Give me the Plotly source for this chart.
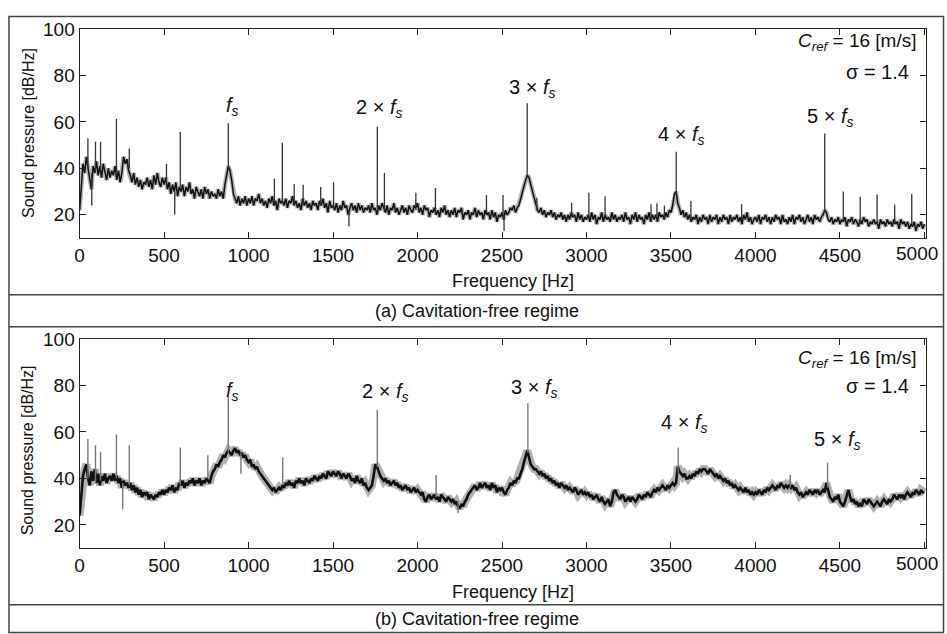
import plotly.graph_objects as go

# ---------------- data ----------------
freq_hz = list(range(0, 5001, 10))

top_db = [
    22, 34, 42, 38, 45, 40, 36, 31, 41, 38,
    43, 37, 41, 36, 42, 38, 35, 40, 36, 39,
    37, 41, 35, 39, 34, 38, 45, 42, 44, 39,
    37, 34, 38, 33, 36, 32, 35, 31, 34, 33,
    36, 32, 35, 31, 37, 33, 38, 34, 32, 36,
    33, 36, 31, 34, 29, 33, 30, 34, 28, 32,
    30, 33, 28, 32, 30, 34, 29, 31, 27, 32,
    30, 28, 31, 27, 32, 29, 31, 27, 30, 28,
    29, 27, 31, 28, 30, 27, 33, 38, 41, 39,
    35, 29, 27, 25, 28, 24, 27, 25, 28, 24,
    27, 25, 28, 24, 27, 26, 29, 25, 27, 24,
    26, 23, 27, 25, 28, 24, 26, 22, 27, 25,
    26, 24, 27, 23, 26, 25, 28, 24, 26, 23,
    25, 22, 27, 24, 26, 23, 25, 22, 26, 24,
    25, 22, 26, 24, 27, 23, 25, 21, 26, 23,
    24, 22, 25, 21, 24, 22, 26, 23, 24, 20,
    23, 25, 22, 24, 21, 25, 22, 24, 21, 23,
    22, 24, 21, 25, 22, 23, 20, 24, 22, 25,
    23, 21, 24, 20, 23, 22, 25, 21, 23, 20,
    22, 24, 21, 23, 20, 24, 22, 21, 24, 23,
    25, 21, 23, 20, 24, 22, 23, 19, 22, 21,
    23, 20, 22, 19, 23, 21, 24, 20, 22, 19,
    22, 20, 23, 19, 22, 21, 23, 18, 21, 20,
    22, 18, 21, 20, 23, 19, 22, 20, 21, 18,
    22, 20, 21, 18, 22, 19, 21, 17, 20, 19,
    21, 18, 22, 20, 21, 23, 22, 24, 21, 23,
    24, 27, 30, 33, 35, 37, 36, 33, 30, 27,
    24, 22, 21, 23, 20, 22, 19, 21, 20, 22,
    19, 21, 18, 20, 19, 21, 18, 20, 17, 20,
    18, 21, 19, 20, 17, 21, 18, 20, 17, 19,
    18, 20, 17, 21, 18, 20, 16, 19, 18, 21,
    17, 20, 18, 19, 17, 21, 18, 20, 17, 19,
    18, 20, 17, 21, 18, 19, 16, 20, 18, 21,
    17, 20, 18, 19, 16, 20, 18, 21, 17, 20,
    18, 20, 17, 21, 19, 20, 18, 21, 19, 22,
    21, 24, 29, 30, 25, 23, 20, 22, 19, 21,
    18, 20, 17, 19, 18, 20, 16, 19, 17, 20,
    18, 19, 16, 20, 17, 19, 18, 20, 16, 19,
    17, 20, 18, 19, 16, 20, 17, 19, 18, 20,
    17, 19, 16, 20, 18, 21, 17, 19, 16, 18,
    19, 17, 20, 16, 19, 18, 20, 17, 19, 16,
    19, 17, 20, 18, 19, 16, 20, 17, 18, 16,
    19, 17, 20, 16, 19, 18, 20, 17, 19, 16,
    18, 20, 17, 19, 16, 20, 18, 19, 17, 19,
    20, 22, 21, 18, 17, 19, 16, 18, 17, 19,
    16, 18, 17, 19, 15, 18, 17, 19, 16, 18,
    17, 15, 18, 16, 19, 17, 18, 15, 17, 16,
    18, 16, 17, 14, 18, 16, 17, 15, 18, 16,
    17, 15, 18, 16, 17, 14, 18, 16, 17, 15,
    17, 14, 16, 15, 17, 13, 16, 15, 17, 14,
    16,
]

bottom_db = [
    24, 33, 41, 44, 46, 40, 37, 43, 39, 44,
    38, 42, 37, 41, 39, 42, 38, 40, 41, 39,
    42, 39, 41, 38, 40, 36, 39, 37, 38, 36,
    38, 35, 37, 34, 36, 33, 35, 32, 34, 33,
    34, 31, 33, 32, 31, 33, 32, 34, 33, 35,
    33, 35, 34, 36, 35, 37, 34, 36, 35, 38,
    37, 39, 36, 38, 37, 39, 38, 40, 37, 39,
    38, 40, 37, 39, 38, 40, 39, 38, 41, 43,
    44, 46, 45, 47, 48, 50, 49, 51, 52, 51,
    50, 52, 53, 51, 52, 50, 51, 49, 50, 48,
    47, 48, 45, 46, 44, 45, 43, 42, 41, 40,
    39, 38, 37, 36, 35, 36, 34, 35, 36, 35,
    37, 36, 38, 37, 39, 37, 38, 36, 39, 38,
    40, 38, 39, 37, 40, 39, 38, 40, 39, 41,
    40, 39, 41, 40, 42, 41, 40, 43, 42, 41,
    43, 42, 41, 43, 42, 40, 42, 41, 40, 42,
    41, 39, 40, 38, 41, 39, 38, 40, 37, 38,
    36, 35, 36, 37, 41, 46, 45, 43, 41, 40,
    39, 40, 38, 39, 37, 38, 39, 37, 38, 36,
    37, 35, 36, 37, 35, 36, 34, 35, 36, 34,
    35, 34, 33, 34, 31, 30, 32, 33, 31, 32,
    33, 31, 32, 30, 33, 32, 31, 30, 32, 31,
    30, 31, 29, 30, 28, 27, 29, 28, 30, 31,
    33, 34, 35, 36, 37, 35, 36, 38, 36, 37,
    38, 36, 37, 35, 38, 36, 37, 34, 36, 35,
    36, 34, 33, 35, 36, 38, 37, 39, 38, 40,
    40, 42, 44, 47, 50, 52, 49, 46, 45, 44,
    44, 43, 42, 43, 41, 42, 40, 41, 39, 40,
    38, 39, 37, 38, 36, 38, 37, 36, 37, 35,
    36, 35, 34, 36, 35, 33, 34, 35, 33, 34,
    33, 34, 32, 33, 31, 32, 33, 31, 30, 32,
    30, 29, 30, 31, 28, 30, 34, 35, 33, 32,
    31, 33, 32, 30, 31, 32, 30, 32, 31, 30,
    31, 33, 32, 31, 33, 32, 34, 33, 32, 34,
    35, 34, 36, 35, 36, 37, 36, 35, 37, 36,
    37, 38, 37, 38, 45, 43, 42, 41, 42, 40,
    40, 41, 40, 42, 41, 43, 42, 44, 43, 44,
    44, 43, 42, 44, 43, 42, 41, 42, 40, 41,
    40, 39, 40, 38, 39, 37, 38, 36, 37, 36,
    35, 36, 35, 34, 36, 34, 35, 33, 34, 33,
    34, 33, 35, 34, 33, 35, 34, 36, 35, 36,
    37, 36, 35, 37, 36, 38, 37, 36, 37, 36,
    37, 36, 37, 35, 36, 34, 33, 34, 32, 33,
    34, 33, 35, 34, 33, 35, 34, 35, 33, 34,
    35, 34, 38, 35, 32, 31, 30, 32, 31, 33,
    30, 29, 28, 30, 33, 35, 32, 30, 31, 29,
    30, 28, 29, 28, 31, 30, 29, 31, 30, 29,
    28, 29, 30, 29, 28, 30, 31, 30, 29, 31,
    30, 31, 33, 32, 31, 33, 32, 33, 31, 33,
    34, 33, 32, 34, 33, 35, 34, 33, 35, 34,
    34,
]

# narrow tonal spikes: frequency, foot level, tip level
top_spike_hz = [49, 72, 94, 124, 218, 294, 514, 563, 596, 880, 1153, 1200, 1270, 1323,
                1427, 1503, 1594, 1762, 1804, 1990, 2106, 2408, 2506, 2512, 2649, 2706,
                2912, 3014, 3110, 3382, 3417, 3461, 3531, 3618, 3918, 4410, 4520, 4620,
                4720, 4824, 4925]
top_spike_lo = [40, 24, 38, 39, 38, 40, 34, 20, 32, 40, 25, 25, 25, 24,
                24, 23, 15, 23, 22, 22, 21, 21, 20, 13, 36, 22,
                19, 19, 19, 18, 18, 18, 29, 18, 18, 21, 17, 16,
                16, 16, 16]
top_spike_hi = [53, 38, 51.5, 51.5, 61.4, 48.6, 42, 30, 55.7, 59.4, 35.6, 51, 33.3, 33,
                32, 34, 22, 57.9, 38, 29.5, 31.6, 28.5, 28.5, 20, 68, 27.4,
                25.2, 29.5, 28, 24.5, 25, 24, 47.2, 26, 24.5, 55, 30, 27.8,
                28.8, 24.3, 29]

bottom_spike_hz = [49, 94, 124, 218, 255, 294, 596, 759, 880, 955, 1202, 1762, 2110,
                   2240, 2653, 3543, 4206, 4427]
bottom_spike_lo = [40, 38, 39, 40, 26.6, 37, 37, 40, 51, 42, 37, 45, 32,
                   25, 51, 42, 36, 36]
bottom_spike_hi = [57, 54.3, 51.5, 58.9, 38, 54.3, 53.3, 50, 75.2, 51, 49, 69.5, 41.5,
                   30, 72.3, 53.3, 41.5, 46.8]

harmonic_labels = ["<i>f</i><sub><i>s</i></sub>",
                   "2 × <i>f</i><sub><i>s</i></sub>",
                   "3 × <i>f</i><sub><i>s</i></sub>",
                   "4 × <i>f</i><sub><i>s</i></sub>",
                   "5 × <i>f</i><sub><i>s</i></sub>"]
top_label_hz = [906, 1771, 2676, 3559, 4441]
top_label_db = [66.5, 65.7, 74.2, 54.1, 61.8]
bottom_label_hz = [906, 1806, 2688, 3576, 4482]
bottom_label_db = [77.6, 76.8, 78.9, 63.5, 56.3]

x_ticks = [0, 500, 1000, 1500, 2000, 2500, 3000, 3500, 4000, 4500, 5000]
# the last label (5000) sits at the right edge; it is drawn as a text note below
x_tick_text = ["0", "500", "1000", "1500", "2000", "2500", "3000", "3500", "4000",
               "4500", ""]
last_tick_label = "5000"
y_ticks = [20, 40, 60, 80, 100]
captions = ["(a) Cavitation-free regime", "(b) Cavitation-free regime"]

# ---------------- layout helpers ----------------
W, H = 947, 634
FONT = "Liberation Sans, Arial, sans-serif"


def px(x):
    return x / W


def py(y):
    return 1 - y / H


def spike_xy(fs, lo, hi):
    xs, ys = [], []
    for f, a, b in zip(fs, lo, hi):
        xs += [f, f, None]
        ys += [a, b, None]
    return xs, ys


fig = go.Figure()

# top panel
fig.add_trace(go.Scatter(x=freq_hz, y=top_db, mode="lines", xaxis="x", yaxis="y",
                         line=dict(color="rgba(0,0,0,0.3)", width=4.5), hoverinfo="skip"))
fig.add_trace(go.Scatter(x=freq_hz, y=top_db, mode="lines", xaxis="x", yaxis="y",
                         line=dict(color="#111111", width=1.5)))
sx, sy = spike_xy(top_spike_hz, top_spike_lo, top_spike_hi)
fig.add_trace(go.Scatter(x=sx, y=sy, mode="lines", xaxis="x", yaxis="y",
                         line=dict(color="#333333", width=1.3)))

# bottom panel
fig.add_trace(go.Scatter(x=freq_hz, y=bottom_db, mode="lines", xaxis="x2", yaxis="y2",
                         line=dict(color="rgba(0,0,0,0.3)", width=8), hoverinfo="skip"))
fig.add_trace(go.Scatter(x=freq_hz, y=bottom_db, mode="lines", xaxis="x2", yaxis="y2",
                         line=dict(color="#111111", width=2.6)))
sx, sy = spike_xy(bottom_spike_hz, bottom_spike_lo, bottom_spike_hi)
fig.add_trace(go.Scatter(x=sx, y=sy, mode="lines", xaxis="x2", yaxis="y2",
                         line=dict(color="#777777", width=1.4)))

TICK_SIZE = 19
axis_common = dict(showgrid=False, zeroline=False, showline=True, linecolor="#222222",
                   linewidth=1.2, mirror="ticks", ticks="inside", ticklen=6,
                   tickcolor="#222222", tickwidth=1.2,
                   tickfont=dict(family=FONT, size=TICK_SIZE, color="#111111"))

xdom = [px(75), px(926)]
top_dom = [py(231.7), py(19.3)]
bot_dom = [py(546.7), py(334.3)]
fig.update_layout(
    width=W, height=H, margin=dict(l=0, r=0, t=0, b=0), autosize=False,
    paper_bgcolor="white", plot_bgcolor="white", showlegend=False,
    xaxis=dict(domain=xdom, range=[0, 5010], tickvals=x_ticks, ticktext=x_tick_text,
               anchor="y", **axis_common),
    yaxis=dict(domain=top_dom, range=[10, 100], tickvals=y_ticks,
               anchor="x", **axis_common),
    xaxis2=dict(domain=xdom, range=[0, 5010], tickvals=x_ticks, ticktext=x_tick_text,
                anchor="y2", **axis_common),
    yaxis2=dict(domain=bot_dom, range=[10, 100], tickvals=y_ticks,
                anchor="x2", **axis_common),
)

ann = []
txt_font = dict(family=FONT, size=20, color="#111111")
for lab, fx, fy in zip(harmonic_labels, top_label_hz, top_label_db):
    ann.append(dict(x=fx, y=fy, xref="x", yref="y", text=lab, showarrow=False,
                    font=txt_font, xanchor="center", yanchor="middle"))
for lab, fx, fy in zip(harmonic_labels, bottom_label_hz, bottom_label_db):
    ann.append(dict(x=fx, y=fy, xref="x2", yref="y2", text=lab, showarrow=False,
                    font=txt_font, xanchor="center", yanchor="middle"))
for xr, yr, yc, ys in [("x", "y", 94.2, 81.4), ("x2", "y2", 91.2, 79.7)]:
    ann.append(dict(x=4965, y=yc, xref=xr, yref=yr, showarrow=False,
                    font=dict(family=FONT, size=19, color="#111111"),
                    text="<i>C</i><sub><i>ref</i></sub> = 16 [m/s]",
                    xanchor="right", yanchor="middle"))
    ann.append(dict(x=4918, y=ys, xref=xr, yref=yr, showarrow=False, font=txt_font,
                    text="σ = 1.4", xanchor="right", yanchor="middle"))

# last x tick label of each panel
for xr, dom in [("x", top_dom), ("x2", bot_dom)]:
    ann.append(dict(x=x_ticks[-1], y=dom[0], xref=xr, yref="paper",
                    text=last_tick_label, showarrow=False, xshift=-7, yshift=-3,
                    font=dict(family=FONT, size=TICK_SIZE, color="#111111"),
                    xanchor="center", yanchor="top"))

# axis titles and captions
for yc in [125, 447.5]:
    ann.append(dict(x=px(23), y=py(yc), xref="paper", yref="paper",
                    text="Sound pressure [dB/Hz]", textangle=-90, showarrow=False,
                    font=dict(family=FONT, size=16, color="#111111"),
                    xanchor="center", yanchor="middle"))
for yc in [275, 591]:
    ann.append(dict(x=px(511), y=py(yc), xref="paper", yref="paper",
                    text="Frequency [Hz]", showarrow=False,
                    font=dict(family=FONT, size=18, color="#111111"),
                    xanchor="center", yanchor="middle"))
for cap, yc in zip(captions, [306, 619]):
    ann.append(dict(x=px(475), y=py(yc), xref="paper", yref="paper",
                    text=cap, showarrow=False,
                    font=dict(family=FONT, size=18, color="#111111"),
                    xanchor="center", yanchor="middle"))
fig.update_layout(annotations=ann)

# frame / table lines
frame_col = "#444444"
shapes = [dict(type="rect", xref="paper", yref="paper", x0=px(4), x1=px(943.5),
               y0=py(632.5), y1=py(6.5), line=dict(color=frame_col, width=1.5))]
for yl in [289.3, 321.7, 604.3]:
    shapes.append(dict(type="line", xref="paper", yref="paper", x0=px(4), x1=px(943.5),
                       y0=py(yl), y1=py(yl), line=dict(color=frame_col, width=1.5)))
fig.update_layout(shapes=shapes)

page_js = (
    "document.documentElement.style.margin='0';"
    "document.documentElement.style.overflow='hidden';"
    "document.body.style.margin='0';"
    "document.body.style.overflow='hidden';"
)

fig.write_html("out.html", config={"displayModeBar": False}, post_script=page_js)
